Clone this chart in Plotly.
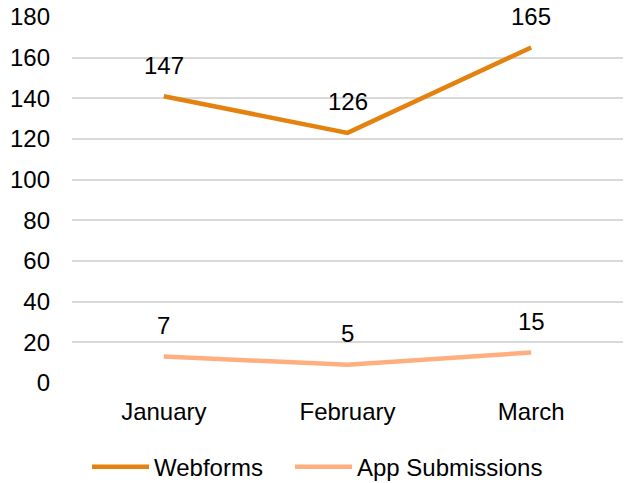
import plotly.graph_objects as go

months = ['January', 'February', 'March']
webforms = [141, 123, 165]
app_submissions = [13, 9, 15]
webforms_labels = ['147', '126', '165']
app_labels = ['7', '5', '15']

FONT = 'Liberation Sans, Arial, sans-serif'

fig = go.Figure()

fig.add_trace(go.Scatter(
    x=months,
    y=webforms,
    mode='lines',
    line=dict(color='#E3820F', width=4.5),
    name='Webforms',
    legend='legend',
    showlegend=True
))

fig.add_trace(go.Scatter(
    x=months,
    y=app_submissions,
    mode='lines',
    line=dict(color='#FFAF7D', width=4.5),
    name='App Submissions',
    legend='legend2',
    showlegend=True
))

# data labels sit above each point
for vals, labels in [(webforms, webforms_labels), (app_submissions, app_labels)]:
    for m, v, t in zip(months, vals, labels):
        fig.add_annotation(
            x=m, y=v, text=t, showarrow=False,
            yshift=31, font=dict(size=24, color='black', family=FONT)
        )

legend_style = dict(orientation='h', xanchor='left', y=-0.23, yanchor='middle',
                    font=dict(size=24), itemwidth=57)

fig.update_layout(
    width=634,
    height=483,
    margin=dict(l=72, r=11, t=17, b=100, autoexpand=False),
    plot_bgcolor='white',
    paper_bgcolor='white',
    showlegend=True,
    font=dict(family=FONT, size=24, color='black'),
    legend=dict(x=0.0272, **legend_style),
    legend2=dict(x=0.3956, **legend_style),
    xaxis=dict(
        range=[-0.5, 2.5],
        showgrid=False, showline=False, zeroline=False,
        ticklabelstandoff=12
    ),
    yaxis=dict(
        range=[0, 180], dtick=20,
        showgrid=True, gridcolor='#D9D9D9', gridwidth=1.5,
        zeroline=False, showline=False,
        ticklabelstandoff=21
    )
)

# drop the default page margin so the figure fills the window
fig.write_html("out.html", config={'displayModeBar': False},
               post_script="document.body.style.margin='0';")
